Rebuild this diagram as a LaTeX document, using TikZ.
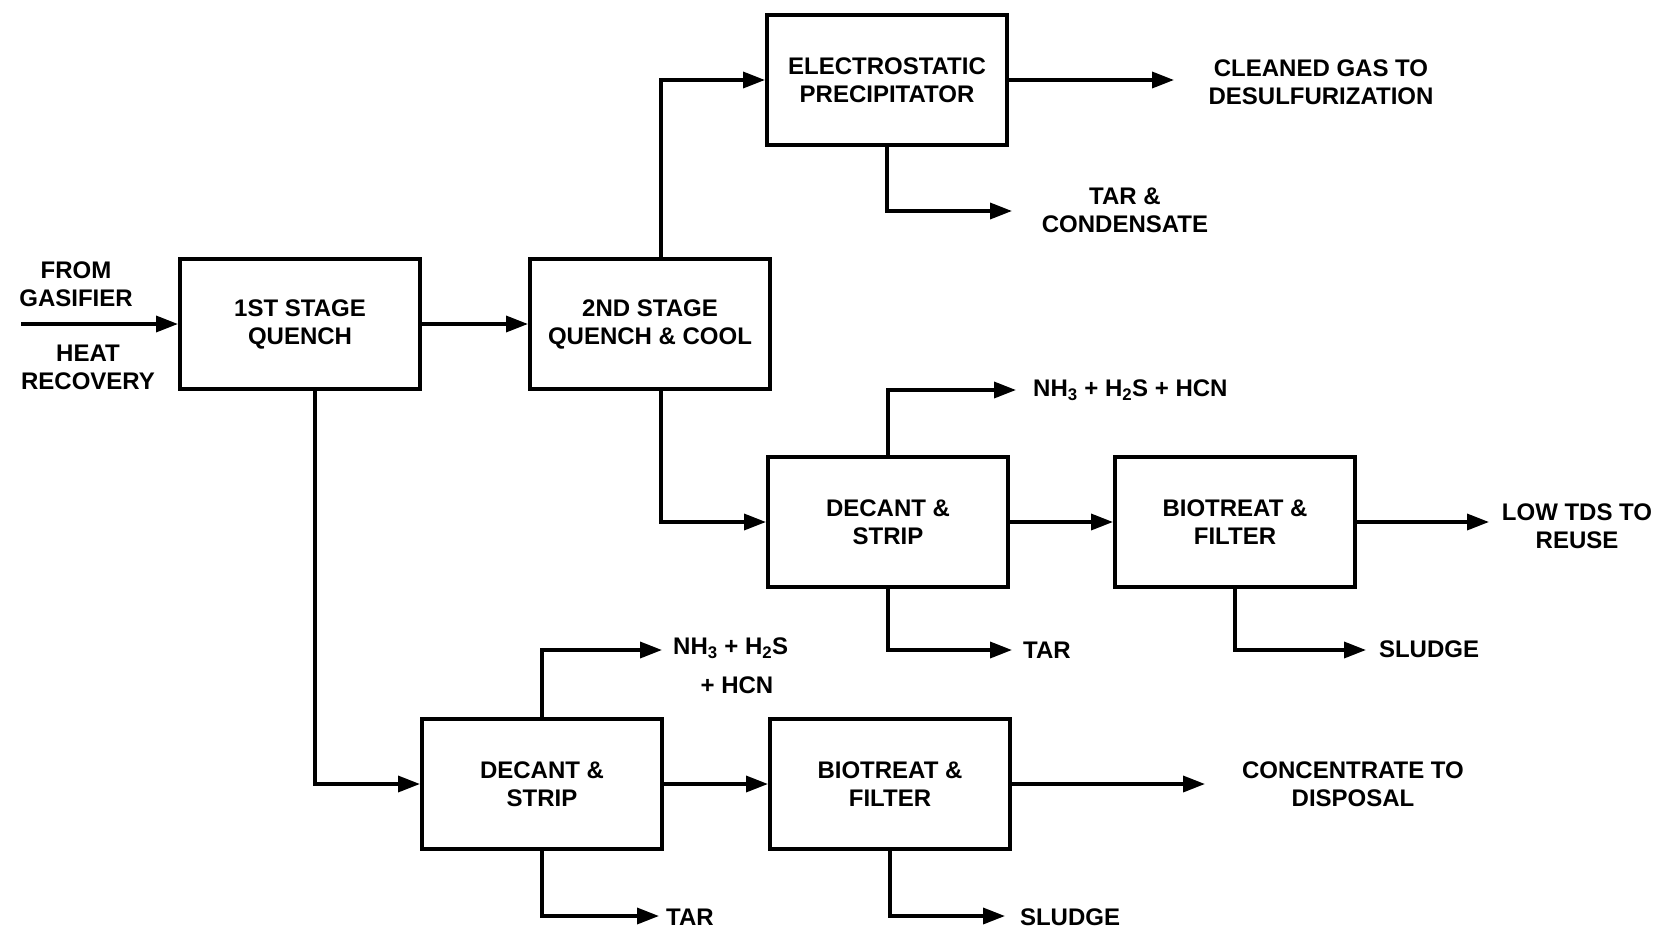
\documentclass[tikz,border=0pt]{standalone}
\usepackage{fontspec}
\setmainfont{Liberation Sans}
\usetikzlibrary{arrows.meta}
\newcommand{\diagfont}{\bfseries\fontsize{24}{28}\selectfont}
\begin{document}
\begin{tikzpicture}[x=1pt,y=-1pt,
  box/.style={draw, line width=4pt, minimum width=240pt, minimum height=130pt, align=center, font=\diagfont, inner sep=0pt},
  flow/.style={line width=3.5pt, -{Triangle[length=22pt,width=16pt]}},
  lbl/.style={align=center, font=\diagfont, inner sep=0pt}
]
\fill[white] (0,0) rectangle (1662,931);
\useasboundingbox (0,0) rectangle (1662,931);

\node[box] (q1) at (300,324) {1ST STAGE\\QUENCH};
\node[box] (q2) at (650,324) {2ND STAGE\\QUENCH \& COOL};
\node[box] (esp) at (887,80) {ELECTROSTATIC\\PRECIPITATOR};
\node[box] (d1) at (888,522) {DECANT \&\\STRIP};
\node[box] (b1) at (1235,522) {BIOTREAT \&\\FILTER};
\node[box] (d2) at (542,784) {DECANT \&\\STRIP};
\node[box] (b2) at (890,784) {BIOTREAT \&\\FILTER};

\coordinate (in) at (21,324);
\coordinate (gas) at (1174,80);
\coordinate (tc) at (1012,211);
\coordinate (n1) at (1016,390);
\coordinate (low) at (1489,522);
\coordinate (t1) at (1012,650);
\coordinate (s1) at (1366,650);
\coordinate (n2) at (662,650);
\coordinate (conc) at (1205,784);
\coordinate (t2) at (659,916);
\coordinate (s2) at (1005,916);

\draw[flow] (in) -- (q1);
\draw[flow] (q1) -- (q2);
\draw[flow] ([xshift=11pt]q2.north) |- (esp);
\draw[flow] (esp) -- (gas);
\draw[flow] (esp.south) |- (tc);
\draw[flow] ([xshift=11pt]q2.south) |- (d1);
\draw[flow] (d1.north) |- (n1);
\draw[flow] (d1) -- (b1);
\draw[flow] (b1) -- (low);
\draw[flow] (d1.south) |- (t1);
\draw[flow] (b1.south) |- (s1);
\draw[flow] ([xshift=15pt]q1.south) |- (d2);
\draw[flow] (d2.north) |- (n2);
\draw[flow] (d2) -- (b2);
\draw[flow] (b2) -- (conc);
\draw[flow] (d2.south) |- (t2);
\draw[flow] (b2.south) |- (s2);

\node[lbl] (lfrom) at (76,284) {FROM\\GASIFIER};
\node[lbl] (lheat) at (88,367) {HEAT\\RECOVERY};
\node[lbl] (lgas) at (1321,82) {CLEANED GAS TO\\DESULFURIZATION};
\node[lbl] (ltc) at (1125,210) {TAR \&\\CONDENSATE};
\node[lbl, anchor=west] (ln1) at (1033,390) {NH\textsubscript{3} + H\textsubscript{2}S + HCN};
\node[lbl] (llow) at (1577,526) {LOW TDS TO\\REUSE};
\node[lbl] (lt1) at (1047,650) {TAR};
\node[lbl] (ls1) at (1429,649) {SLUDGE};
\node[lbl, anchor=west] (ln2) at (673,648) {NH\textsubscript{3} + H\textsubscript{2}S};
\node[lbl] (lhcn) at (737,685) {+ HCN};
\node[lbl] (lconc) at (1353,784) {CONCENTRATE TO\\DISPOSAL};
\node[lbl, anchor=west] (lt2) at (666,917) {TAR};
\node[lbl] (ls2) at (1070,917) {SLUDGE};
\end{tikzpicture}
\end{document}
